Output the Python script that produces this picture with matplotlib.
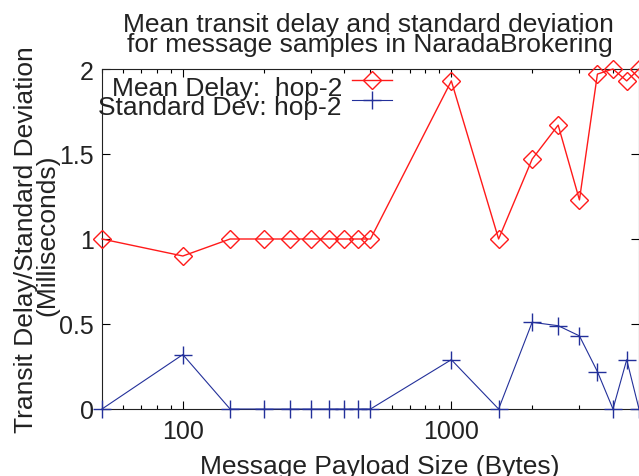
import numpy as np
import matplotlib
matplotlib.use('Agg')
import matplotlib.pyplot as plt
from matplotlib.lines import Line2D
from matplotlib.ticker import LogLocator, NullFormatter

plt.rcParams['font.family'] = ['Liberation Sans', 'DejaVu Sans']

# Message payload sizes (bytes)
payload = [50, 100, 150, 200, 250, 300, 350, 400, 450, 500,
           1000, 1500, 2000, 2500, 3000, 3500, 4000, 4500, 5000]

# Mean transit delay, hop-2 (ms)
mean_delay = [1.0, 0.9, 1.0, 1.0, 1.0, 1.0, 1.0, 1.0, 1.0, 1.0,
              1.93, 1.0, 1.47, 1.67, 1.23, 1.97, 2.0, 1.93, 2.0]

# Standard deviation, hop-2 (ms)
std_dev = [0.0, 0.32, 0.0, 0.0, 0.0, 0.0, 0.0, 0.0, 0.0, 0.0,
           0.29, 0.0, 0.51, 0.49, 0.43, 0.22, 0.0, 0.29, 0.0]

title_lines = ['Mean transit delay and standard deviation',
               'for message samples in NaradaBrokering']
ylabel_lines = ['Transit Delay/Standard Deviation', '(Milliseconds)']
legend_labels = ['Mean Delay:  hop-2', 'Standard Dev: hop-2']

red = '#ff1a1a'
blue = '#23309a'
ink = '#222222'
W, H = 639, 477


def fx(px):
    return px / W


def fy(py):
    return 1 - py / H


fig = plt.figure(figsize=(W / 100, H / 100), dpi=100)
ax = fig.add_axes([fx(102), fy(410), fx(537), 340 / H])

ax.plot(payload, mean_delay, color=red, lw=1, marker='D', ms=9,
        mfc='none', mec=red, mew=1, clip_on=False, zorder=3)
ax.plot(payload, std_dev, color=blue, lw=0.8, marker='+', ms=13,
        mew=1, clip_on=False, zorder=3)

ax.set_xscale('log')
ax.set_xlim(50, 5000)
ax.set_ylim(0, 2)
ax.set_xticks([100, 1000])
ax.set_xticklabels(['100', '1000'])
ax.xaxis.set_minor_locator(LogLocator(base=10, subs=np.arange(2, 10)))
ax.xaxis.set_minor_formatter(NullFormatter())
ax.set_yticks([0, 0.5, 1, 1.5, 2])
ax.set_yticklabels(['0', '0.5', '1', '1.5', '2'])

ax.tick_params(which='both', direction='in', top=True, right=True,
               labelsize=18, width=0.8, labelcolor=ink)
ax.tick_params(which='major', length=6)
ax.tick_params(axis='x', which='major', pad=7)
ax.tick_params(axis='y', which='major', pad=6)
ax.tick_params(which='minor', length=3)
for s in ax.spines.values():
    s.set_linewidth(0.8)
    s.set_color(ink)

# title, two tight lines like gnuplot
for txt, base, cx in zip(title_lines, [32, 52], [368, 370]):
    fig.text(fx(cx), fy(base), txt, ha='center', va='baseline',
             fontsize=19, color=ink)

# x label
fig.text(fx(380), fy(474), 'Message Payload Size (Bytes)', ha='center',
         va='baseline', fontsize=19, color=ink)

# y label, two rotated lines
for txt, bx, cy in zip(ylabel_lines, [33, 54], [240, 235]):
    fig.text(fx(bx), fy(cy), txt, rotation=90, rotation_mode='anchor',
             ha='center', va='baseline', fontsize=19, color=ink)

# legend drawn gnuplot style: right-aligned labels, sample to the right
styles = [(red, 'D', 9, 1.0), (blue, '+', 13, 0.8)]
rows = [81, 101]
bases = [96, 115]
for lab, (c, m, ms, lw), ry, by in zip(legend_labels, styles, rows, bases):
    fig.text(fx(342), fy(by), lab, ha='right', va='baseline',
             fontsize=19, color=ink)
    fig.add_artist(Line2D([fx(352), fx(392)], [fy(ry), fy(ry)], color=c,
                          lw=lw, transform=fig.transFigure))
    fig.add_artist(Line2D([fx(372)], [fy(ry)], color=c, marker=m, ms=ms,
                          mfc='none', mec=c, mew=1,
                          transform=fig.transFigure))

fig.savefig('out.png', dpi=100)
